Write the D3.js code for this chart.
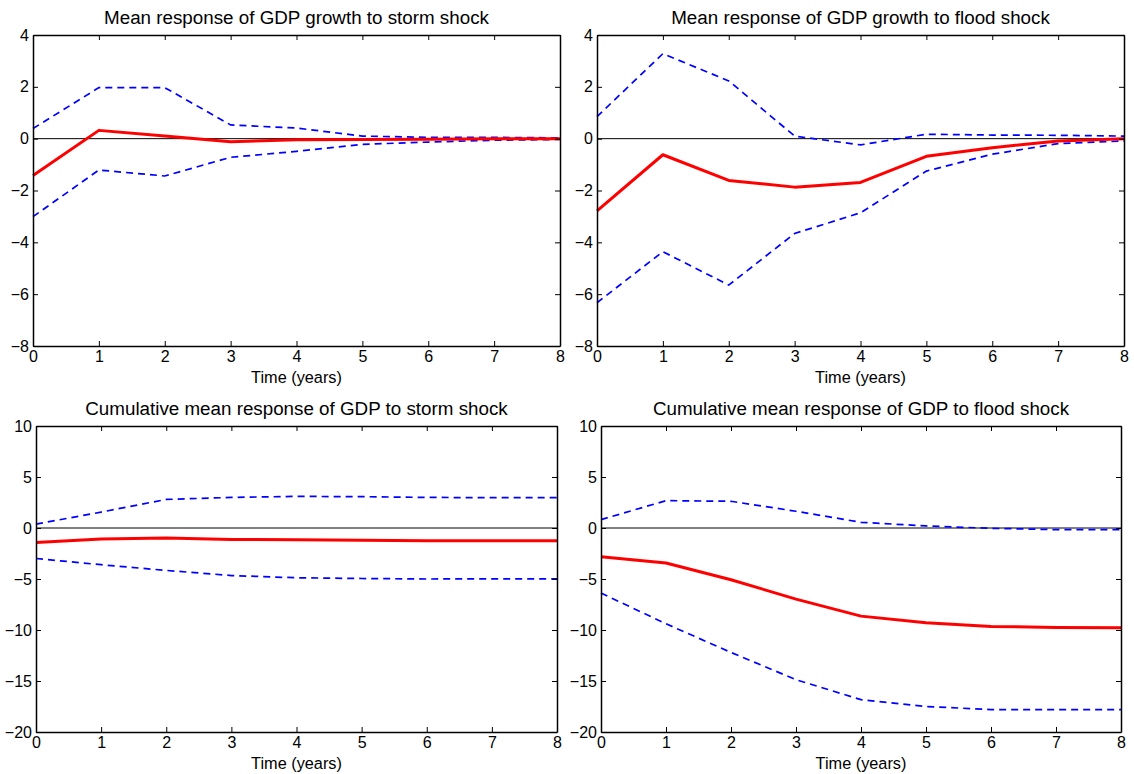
<!DOCTYPE html>
<html>
<head>
<meta charset="utf-8">
<script src="https://cdn.jsdelivr.net/npm/d3@7"></script>
<style>
  body { margin: 0; background: #fff; }
  svg text { font-family: "Liberation Sans", Arial, Helvetica, sans-serif; fill: #000; }
</style>
</head>
<body>
<div id="chart"></div>
<script>
// horizon in years
var years = [0, 1, 2, 3, 4, 5, 6, 7, 8];

// mean response of GDP growth to storm shock
var stormGrowthMean  = [-1.42, 0.32, 0.10, -0.12, -0.04, -0.03, -0.02, 0.0, 0.0];
var stormGrowthUpper = [0.39, 1.97, 1.97, 0.53, 0.41, 0.10, 0.05, 0.05, 0.03];
var stormGrowthLower = [-3.01, -1.21, -1.44, -0.72, -0.49, -0.22, -0.13, -0.06, -0.03];

// mean response of GDP growth to flood shock
var floodGrowthMean  = [-2.79, -0.62, -1.61, -1.87, -1.69, -0.68, -0.35, -0.09, 0.0];
var floodGrowthUpper = [0.85, 3.28, 2.23, 0.10, -0.24, 0.17, 0.14, 0.13, 0.10];
var floodGrowthLower = [-6.33, -4.36, -5.65, -3.66, -2.86, -1.25, -0.60, -0.19, -0.09];

// cumulative response of GDP to storm shock
var stormCumMean  = [-1.42, -1.09, -0.99, -1.12, -1.15, -1.19, -1.25, -1.25, -1.25];
var stormCumUpper = [0.38, 1.56, 2.80, 3.00, 3.10, 3.07, 3.00, 2.97, 2.97];
var stormCumLower = [-2.99, -3.60, -4.16, -4.66, -4.88, -4.95, -5.00, -4.98, -4.98];

// cumulative response of GDP to flood shock
var floodCumMean  = [-2.81, -3.43, -5.07, -6.97, -8.64, -9.30, -9.65, -9.75, -9.78];
var floodCumUpper = [0.82, 2.68, 2.62, 1.64, 0.56, 0.20, -0.03, -0.16, -0.16];
var floodCumLower = [-6.38, -9.39, -12.20, -14.87, -16.83, -17.50, -17.80, -17.80, -17.80];

var growthTicks = [-8, -6, -4, -2, 0, 2, 4];
var cumTicks = [-20, -15, -10, -5, 0, 5, 10];

var titles = [
  "Mean response of GDP growth to storm shock",
  "Mean response of GDP growth to flood shock",
  "Cumulative mean response of GDP to storm shock",
  "Cumulative mean response of GDP to flood shock"
];

var panels = [
  { title: titles[0], mean: stormGrowthMean, upper: stormGrowthUpper, lower: stormGrowthLower, ticks: growthTicks,
    box: {x0: 33, x1: 560, y0: 35, y1: 346} },
  { title: titles[1], mean: floodGrowthMean, upper: floodGrowthUpper, lower: floodGrowthLower, ticks: growthTicks,
    box: {x0: 597, x1: 1124, y0: 35, y1: 346} },
  { title: titles[2], mean: stormCumMean, upper: stormCumUpper, lower: stormCumLower, ticks: cumTicks,
    box: {x0: 36, x1: 557, y0: 426, y1: 732} },
  { title: titles[3], mean: floodCumMean, upper: floodCumUpper, lower: floodCumLower, ticks: cumTicks,
    box: {x0: 601, x1: 1121, y0: 426, y1: 732} }
];

var width = 1134, height = 774;

var svg = d3.select("#chart")
  .append("svg")
  .attr("width", width)
  .attr("height", height);

panels.forEach(function(p) {
  var b = p.box;
  var x = d3.scaleLinear().domain([0, 8]).range([b.x0, b.x1]);
  var y = d3.scaleLinear().domain(d3.extent(p.ticks)).range([b.y1, b.y0]);

  var g = svg.append("g");

  // zero line
  g.append("line")
    .attr("x1", b.x0).attr("x2", b.x1)
    .attr("y1", y(0)).attr("y2", y(0))
    .attr("stroke", "#000")
    .attr("stroke-width", 1);

  var line = d3.line()
    .x(function(d, i) { return x(years[i]); })
    .y(function(d) { return y(d); });

  // confidence bands
  [p.upper, p.lower].forEach(function(s) {
    g.append("path")
      .datum(s)
      .attr("fill", "none")
      .attr("stroke", "#0000ff")
      .attr("stroke-width", 1.7)
      .attr("stroke-dasharray", "7,5")
      .attr("d", line);
  });

  // mean response
  g.append("path")
    .datum(p.mean)
    .attr("fill", "none")
    .attr("stroke", "#ff0000")
    .attr("stroke-width", 3)
    .attr("stroke-linejoin", "round")
    .attr("d", line);

  // axes, ticks pointing inward on all sides
  g.append("g")
    .attr("transform", "translate(0," + b.y1 + ")")
    .call(d3.axisBottom(x).tickValues(years).tickSize(-5).tickPadding(5).tickSizeOuter(0));
  g.append("g")
    .attr("transform", "translate(" + b.x0 + ",0)")
    .call(d3.axisLeft(y).tickValues(p.ticks).tickSize(-5).tickPadding(4).tickSizeOuter(0));
  g.append("g")
    .attr("transform", "translate(0," + b.y0 + ")")
    .call(d3.axisTop(x).tickValues(years).tickSize(-5).tickFormat("").tickSizeOuter(0));
  g.append("g")
    .attr("transform", "translate(" + b.x1 + ",0)")
    .call(d3.axisRight(y).tickValues(p.ticks).tickSize(-5).tickFormat("").tickSizeOuter(0));

  g.selectAll(".domain").attr("stroke", "#000").attr("stroke-width", 1.5);
  g.selectAll(".tick line").attr("stroke", "#000");
  g.selectAll(".tick text").style("font-size", "16px");

  // title
  g.append("text")
    .attr("x", (b.x0 + b.x1) / 2)
    .attr("y", b.y0 - 11)
    .attr("text-anchor", "middle")
    .style("font-size", "18.8px")
    .text(p.title);

  // x label
  g.append("text")
    .attr("x", (b.x0 + b.x1) / 2)
    .attr("y", b.y1 + 37)
    .attr("text-anchor", "middle")
    .style("font-size", "16.3px")
    .text("Time (years)");
});
</script>
</body>
</html>
